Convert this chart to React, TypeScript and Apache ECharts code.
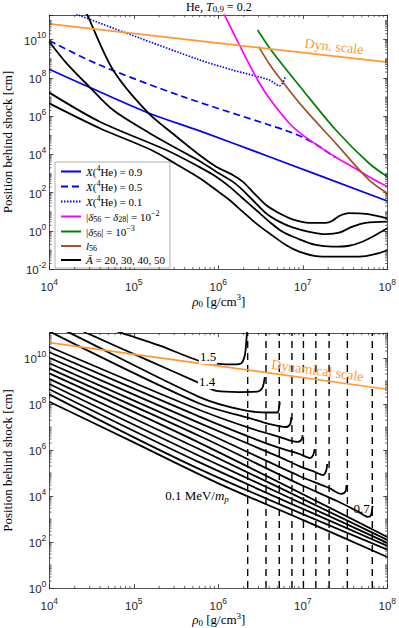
import React, { useEffect, useRef } from 'react';
import * as echarts from 'echarts';

const SERIF = '"Liberation Serif", "Times New Roman", serif';
const SANS = '"Liberation Sans", Arial, sans-serif';
const AX = '#262626';
const BLUE = '#0000FF';
const MAGENTA = '#FF00FF';
const GREEN = '#008000';
const BROWN = '#A0522D';
const ORANGE = '#FF9933';

// ===== axis ranges, in log10 units =====
const rhoExpRange = [4, 8];
const posExpRangeTop = [-2, 11.285];
const posExpRangeBottom = [0, 11.087];

// ===== top panel (He, T0,9 = 0.2): [log10 rho0 (g/cm3), log10 position behind shock (cm)] =====
const dynScaleTop = [[4, 10.82], [8, 8.82]];
const xHe09 = [[4, 8.45], [4.46, 7.54], [5.165, 6.18], [5.78, 5.23], [6.604, 3.88], [8, 1.57]];
const xHe05 = [[4, 9.94], [4.598, 8.67], [5.581, 7.02], [6.604, 5.54], [6.8, 5.25], [7.0, 4.9], [7.15, 4.55], [7.3, 4.1], [7.38, 3.85]];
const xHe01 = [[4.25, 11.45], [4.342, 11.29], [4.997, 10.2], [5.778, 8.94], [6.171, 8.41], [6.604, 7.89], [6.722, 7.59], [6.761, 7.72], [6.793, 8.06]];
const deltaDiff = [[6.014, 11.8], [6.073, 11.29], [6.25, 9.72], [6.466, 7.89], [6.604, 6.93], [6.84, 5.63], [6.997, 5.02], [7.194, 4.41], [7.391, 3.85], [7.587, 3.36], [7.784, 2.84], [8, 2.32]];
const delta56 = [[6.466, 10.5], [6.624, 9.46], [7.0, 7.37], [7.391, 5.28], [7.784, 3.54], [8, 2.84]];
const l56Curve = [[6.478, 9.63], [6.604, 8.73], [6.761, 7.8], [6.997, 6.5], [7.391, 4.58], [7.784, 2.67], [8, 1.97]];
const abar50 = [[4.386, 11.86], [4.449, 11.29], [4.755, 8.41], [5.168, 6.18], [5.5, 4.95], [5.778, 3.97], [5.975, 3.36], [6.171, 2.93], [6.289, 2.58], [6.407, 2.05], [6.565, 1.36], [6.722, 0.93], [6.879, 0.61], [7.076, 0.43], [7.273, 0.43], [7.351, 0.54], [7.43, 0.78], [7.548, 0.93], [7.745, 0.89], [8, 0.66]];
const abar40 = [[4, 9.89], [4.205, 8.76], [4.48, 7.51], [4.755, 6.32], [5.188, 5.11], [5.562, 4.18], [5.778, 3.66], [5.975, 3.1], [6.171, 2.58], [6.289, 2.14], [6.407, 1.62], [6.565, 0.93], [6.722, 0.49], [6.879, 0.19], [7.076, -0.04], [7.273, -0.16], [7.43, -0.09], [7.587, 0.23], [7.745, 0.43], [8, 0.49]];
const abar30 = [[4, 7.23], [4.598, 5.71], [5.385, 4.23], [5.778, 3.34], [5.975, 2.84], [6.132, 2.32], [6.289, 1.71], [6.447, 1.1], [6.604, 0.49], [6.761, -0.04], [6.958, -0.43], [7.155, -0.73], [7.351, -0.82], [7.548, -0.77], [7.705, -0.56], [7.863, -0.21], [8, 0.14]];
const abar20 = [[4, 6.67], [4.598, 5.37], [5.208, 4.23], [5.5, 3.5], [5.778, 2.77], [5.975, 2.14], [6.132, 1.62], [6.289, 1.01], [6.447, 0.4], [6.604, -0.12], [6.801, -0.73], [6.958, -1.08], [7.155, -1.31], [7.351, -1.34], [7.548, -1.34], [7.745, -1.31], [7.902, -1.16], [8, -0.99]];

// ===== bottom panel: contours of energy (MeV/m_p), same units =====
const dynScaleBottom = [[4, 10.67], [8, 8.64]];
const e15 = [[4.6, 11.42], [4.854, 11.09], [5.3, 10.55], [5.778, 9.87], [5.979, 9.76], [6.191, 9.72], [6.274, 9.78], [6.315, 10.13], [6.333, 10.78], [6.339, 11.09], [6.342, 11.43]];
const e14 = [[4.3, 11.35], [4.441, 11.09], [5.13, 9.96], [5.778, 8.91], [5.979, 8.57], [6.25, 8.52], [6.463, 8.54], [6.522, 8.7], [6.545, 9.04], [6.551, 9.17]];
const e13 = [[4.1, 11.35], [4.244, 11.09], [5.778, 8.3], [6.286, 7.74], [6.604, 7.63], [6.699, 7.63], [6.722, 7.91], [6.728, 8.09]];
const e12 = [[4, 11.16], [5.778, 8.02], [6.368, 7.39], [6.604, 7.13], [6.805, 7.0], [6.852, 7.13], [6.864, 7.43]];
const e11 = [[4, 10.49], [5.778, 7.74], [6.368, 6.96], [6.722, 6.57], [6.935, 6.35], [6.982, 6.43], [6.999, 6.65]];
const e10 = [[4, 10.25], [5.778, 7.45], [6.368, 6.57], [6.722, 6.09], [6.958, 5.83], [7.088, 5.65], [7.123, 5.78], [7.141, 6.04]];
const e09 = [[4, 10.01], [5.778, 7.17], [6.722, 5.7], [6.958, 5.3], [7.147, 5.04], [7.241, 4.91], [7.277, 5.09], [7.289, 5.39]];
const e08 = [[4, 9.77], [5.778, 6.88], [6.958, 4.87], [7.312, 4.35], [7.454, 4.09], [7.501, 4.17], [7.519, 4.48]];
const e07 = [[4, 9.55], [5.778, 6.61], [6.958, 4.52], [7.43, 3.74], [7.666, 3.3], [7.772, 3.09], [7.808, 3.17], [7.825, 3.57]];
const e06 = [[4, 9.33], [5.778, 6.31], [8, 2.22]];
const e05 = [[4, 9.09], [5.778, 6.03], [8, 2.09]];
const e04 = [[4, 8.87], [5.778, 5.74], [8, 1.96]];
const e03 = [[4, 8.64], [5.778, 5.46], [8, 1.83]];
const e02 = [[4, 8.42], [5.778, 5.17], [8, 1.67]];
const e01 = [[4, 8.1], [5, 6.33], [6, 4.55], [7, 2.96], [8, 1.35]];
const energyCurves = [e15, e14, e13, e12, e11, e10, e09, e08, e07, e06, e05, e04, e03, e02, e01];
const energyNames = ['1.5', '1.4', '1.3', '1.2', '1.1', '1.0', '0.9', '0.8', '0.7', '0.6', '0.5', '0.4', '0.3', '0.2', '0.1'];
// log10 rho0 of the vertical dashed lines
const dashRhoExp = [6.348, 6.565, 6.722, 6.872, 7.008, 7.155, 7.312, 7.528, 7.823];

// ===== legend names =====
const N_X09 = 'X(4He) = 0.9';
const N_X05 = 'X(4He) = 0.5';
const N_X01 = 'X(4He) = 0.1';
const N_DD = '|δ56 − δ28| = 10^-2';
const N_D56 = '|δ56| = 10^-3';
const N_L56 = 'l56';
const N_A = 'Ā = 20, 30, 40, 50';
const legendNames = [N_X09, N_X05, N_X01, N_DD, N_D56, N_L56, N_A];
const legendRichText: Record<string, string> = {
  [N_X09]: '{i|X}{n|(}{sup|4}{n|He) = 0.9}',
  [N_X05]: '{i|X}{n|(}{sup|4}{n|He) = 0.5}',
  [N_X01]: '{i|X}{n|(}{sup|4}{n|He) = 0.1}',
  [N_DD]: '{n||}{i|δ}{sub|56}{n| − }{i|δ}{sub|28}{n|| = 10}{sup|−2}',
  [N_D56]: '{n||}{i|δ}{sub|56}{n|| = 10}{sup|−3}',
  [N_L56]: '{i|l}{sub|56}',
  [N_A]: '{i|Ā}{n| = 20, 30, 40, 50}',
};

function expLabel(v: number) {
  const r = Math.round(v);
  if (Math.abs(v - r) > 1e-6) return '';
  return `{b|10}{s|${r}}`;
}

const tickRich = {
  b: { fontFamily: SANS, fontSize: 11.5, color: AX, lineHeight: 14, padding: [2, 0, 0, 0] },
  s: { fontFamily: SANS, fontSize: 8.5, color: AX, lineHeight: 14, padding: [0, 0, 9, 0] },
};

function gRich(fs: number, color: string) {
  const lh = fs + 3;
  return {
    n: { fontFamily: SERIF, fontSize: fs, fill: color, lineHeight: lh },
    i: { fontFamily: SERIF, fontSize: fs, fontStyle: 'italic', fill: color, lineHeight: lh },
    sub: { fontFamily: SERIF, fontSize: Math.round(fs * 0.72), fill: color, lineHeight: lh, padding: [Math.round(fs * 0.45), 0, 0, 0] },
    subi: { fontFamily: SERIF, fontSize: Math.round(fs * 0.72), fontStyle: 'italic', fill: color, lineHeight: lh, padding: [Math.round(fs * 0.45), 0, 0, 0] },
    sup: { fontFamily: SERIF, fontSize: Math.round(fs * 0.72), fill: color, lineHeight: lh, padding: [0, 0, Math.round(fs * 0.6), 0] },
  };
}

function buildOption(): any {
  const xAx = (grid: number, pos: string, showLabel: boolean) => ({
    type: 'value', gridIndex: grid, position: pos, min: rhoExpRange[0], max: rhoExpRange[1], interval: 1,
    axisLine: { show: true, onZero: false, lineStyle: { color: AX, width: 0.8 } },
    axisTick: { show: true, inside: true, length: 4, lineStyle: { color: AX, width: 0.8 } },
    axisLabel: { show: showLabel, margin: 10, formatter: expLabel, rich: tickRich, color: AX },
    splitLine: { show: false },
  });
  const yAx = (grid: number, pos: string, showLabel: boolean, range: number[]) => ({
    type: 'value', gridIndex: grid, position: pos, min: range[0], max: range[1], interval: 2,
    axisLine: { show: true, onZero: false, lineStyle: { color: AX, width: 0.8 } },
    axisTick: { show: true, inside: true, length: 4, lineStyle: { color: AX, width: 0.8 } },
    axisLabel: { show: showLabel, margin: 3, formatter: expLabel, rich: tickRich, color: AX },
    splitLine: { show: false },
  });

  // ax: 0 -> top panel axes, 2 -> bottom panel axes
  const mkLine = (name: string, data: number[][], color: string, width: number, type: any, ax: number, z = 3, smooth: any = 0.3) => ({
    type: 'line', name, data, xAxisIndex: ax, yAxisIndex: ax,
    symbol: 'none', showSymbol: false, smooth, clip: true, silent: true, z,
    lineStyle: { color, width, type }, itemStyle: { color }, emphasis: { disabled: true },
  });

  const seg = (x1: number, y1: number, x2: number, y2: number) => ({
    type: 'line', shape: { x1, y1, x2, y2 }, style: { stroke: AX, lineWidth: 0.7 },
  });

  const xMinor: number[] = [];
  for (let e = rhoExpRange[0]; e < rhoExpRange[1]; e++) for (let m = 2; m <= 9; m++) xMinor.push(e + Math.log10(m));
  const yMinorFor = (range: number[]) => {
    const out: number[] = [];
    for (let e = Math.floor(range[0]); e <= Math.ceil(range[1]); e++) {
      for (let m = 1; m <= 9; m++) {
        if (m === 1 && e % 2 === 0) continue;
        const v = e + Math.log10(m);
        if (v > range[0] && v < range[1]) out.push(v);
      }
    }
    return out;
  };
  const minorTicks = (ax: number, yr: number[]) => [
    {
      type: 'custom', xAxisIndex: ax, yAxisIndex: ax, silent: true, clip: false, z: 4,
      data: xMinor.map((v) => [v, yr[0]]),
      renderItem: (_p: any, api: any) => {
        const v = api.value(0);
        const b = api.coord([v, yr[0]]);
        const t = api.coord([v, yr[1]]);
        return { type: 'group', children: [seg(b[0], b[1], b[0], b[1] - 2.2), seg(t[0], t[1], t[0], t[1] + 2.2)] };
      },
    },
    {
      type: 'custom', xAxisIndex: ax, yAxisIndex: ax, silent: true, clip: false, z: 4,
      data: yMinorFor(yr).map((v) => [rhoExpRange[0], v]),
      renderItem: (_p: any, api: any) => {
        const v = api.value(1);
        const l = api.coord([rhoExpRange[0], v]);
        const r = api.coord([rhoExpRange[1], v]);
        return { type: 'group', children: [seg(l[0], l[1], l[0] + 2.2, l[1]), seg(r[0], r[1], r[0] - 2.2, r[1])] };
      },
    },
  ];

  const CW = 1.7; // coloured line width
  const KW = 1.8; // black line width
  const series: any[] = [
    mkLine(N_X09, xHe09, BLUE, CW, 'solid', 0),
    mkLine(N_X05, xHe05, BLUE, CW, [7, 4], 0),
    mkLine(N_X01, xHe01, BLUE, CW, [1.5, 1.5], 0),
    mkLine(N_DD, deltaDiff, MAGENTA, CW, 'solid', 0),
    mkLine(N_D56, delta56, GREEN, CW, 'solid', 0),
    mkLine(N_L56, l56Curve, BROWN, CW, 'solid', 0),
    mkLine(N_A, abar50, '#000', KW, 'solid', 0),
    mkLine(N_A, abar40, '#000', KW, 'solid', 0),
    mkLine(N_A, abar30, '#000', KW, 'solid', 0),
    mkLine(N_A, abar20, '#000', KW, 'solid', 0),
    mkLine('Dyn. scale', dynScaleTop, ORANGE, CW, 'solid', 0, 3, false),
    ...minorTicks(0, posExpRangeTop),
  ];
  dashRhoExp.forEach((x, i) => {
    series.push(mkLine('dashed ' + i, [[x, posExpRangeBottom[0]], [x, posExpRangeBottom[1]]], '#000', 1.4, [7, 5], 2, 2, false));
  });
  energyCurves.forEach((c, i) => {
    series.push(mkLine(energyNames[i] + ' MeV/m_p', c, '#000', KW, 'solid', 2));
  });
  series.push(mkLine('Dynamical scale', dynScaleBottom, ORANGE, CW, 'solid', 2, 3, false));
  series.push(...minorTicks(2, posExpRangeBottom));

  const legendRich = {
    n: { fontFamily: SERIF, fontSize: 11, color: '#000', lineHeight: 14 },
    i: { fontFamily: SERIF, fontSize: 11, fontStyle: 'italic', color: '#000', lineHeight: 14 },
    sup: { fontFamily: SERIF, fontSize: 8, color: '#000', lineHeight: 14, padding: [0, 0, 7, 0] },
    sub: { fontFamily: SERIF, fontSize: 8, color: '#000', lineHeight: 14, padding: [5, 0, 0, 0] },
  };

  const label = (x: number, y: number, text: string, fs: number, color: string, extra: any = {}) => {
    const { style: extraStyle, ...rest } = extra;
    return {
      type: 'text', x, y, z: 10, silent: true, ...rest,
      style: { text, rich: gRich(fs, color), fill: color, fontFamily: SERIF, fontSize: fs, align: 'center', verticalAlign: 'middle', ...(extraStyle || {}) },
    };
  };

  const graphic = [
    label(218.8, 6.5, '{n|He, }{i|T}{sub|0,9}{n| = 0.2}', 12, '#000'),
    label(7, 142, '{n|Position behind shock [cm]}', 13, '#000', { rotation: Math.PI / 2 }),
    label(7, 460.5, '{n|Position behind shock [cm]}', 13, '#000', { rotation: Math.PI / 2 }),
    label(218.8, 301, '{i|ρ}{sub|0}{n| [g/cm}{sup|3}{n|]}', 13, '#000'),
    label(218.8, 619.5, '{i|ρ}{sub|0}{n| [g/cm}{sup|3}{n|]}', 13, '#000'),
    label(334, 46.5, '{n|Dyn. scale}', 14, ORANGE, { rotation: -0.108 }),
    label(317.5, 370.5, '{n|Dynamical scale}', 14, ORANGE, { rotation: -0.136 }),
    label(208, 356, '{n|1.5}', 13, '#000', { style: { backgroundColor: '#fff', padding: [0, 1] } }),
    label(207, 381, '{n|1.4}', 13, '#000', { style: { backgroundColor: '#fff', padding: [0, 1] } }),
    label(361.5, 508, '{n|0.7}', 13, '#000'),
    label(197, 495.5, '{n|0.1 MeV/}{i|m}{subi|p}', 13, '#000'),
  ];

  return {
    animation: false,
    backgroundColor: '#fff',
    textStyle: { fontFamily: SERIF },
    grid: [
      { left: 49.3, top: 15, width: 339, height: 254.3 },
      { left: 49.3, top: 333, width: 339, height: 255 },
    ],
    xAxis: [xAx(0, 'bottom', true), xAx(0, 'top', false), xAx(1, 'bottom', true), xAx(1, 'top', false)],
    yAxis: [
      yAx(0, 'left', true, posExpRangeTop), yAx(0, 'right', false, posExpRangeTop),
      yAx(1, 'left', true, posExpRangeBottom), yAx(1, 'right', false, posExpRangeBottom),
    ],
    legend: {
      show: true, orient: 'vertical', left: 55, top: 162, padding: [2, 5, 1, 5], itemGap: 0,
      itemWidth: 20, itemHeight: 14, backgroundColor: '#fff', borderColor: '#8c8c8c', borderWidth: 0.7,
      selectedMode: false, data: legendNames,
      itemStyle: { color: 'rgba(0,0,0,0)', borderWidth: 0, opacity: 0 },
      formatter: (n: string) => legendRichText[n] || n,
      textStyle: { fontFamily: SERIF, fontSize: 11, color: '#000', lineHeight: 14, rich: legendRich },
    },
    series,
    graphic,
  };
}

export default function App() {
  const ref = useRef<HTMLDivElement>(null);
  useEffect(() => {
    const chart = echarts.init(ref.current!, null, { renderer: 'svg', width: 399, height: 628 });
    chart.setOption(buildOption());
    return () => chart.dispose();
  }, []);
  return <div ref={ref} style={{ position: 'absolute', left: 0, top: 0, width: 399, height: 628, background: '#fff' }} />;
}
